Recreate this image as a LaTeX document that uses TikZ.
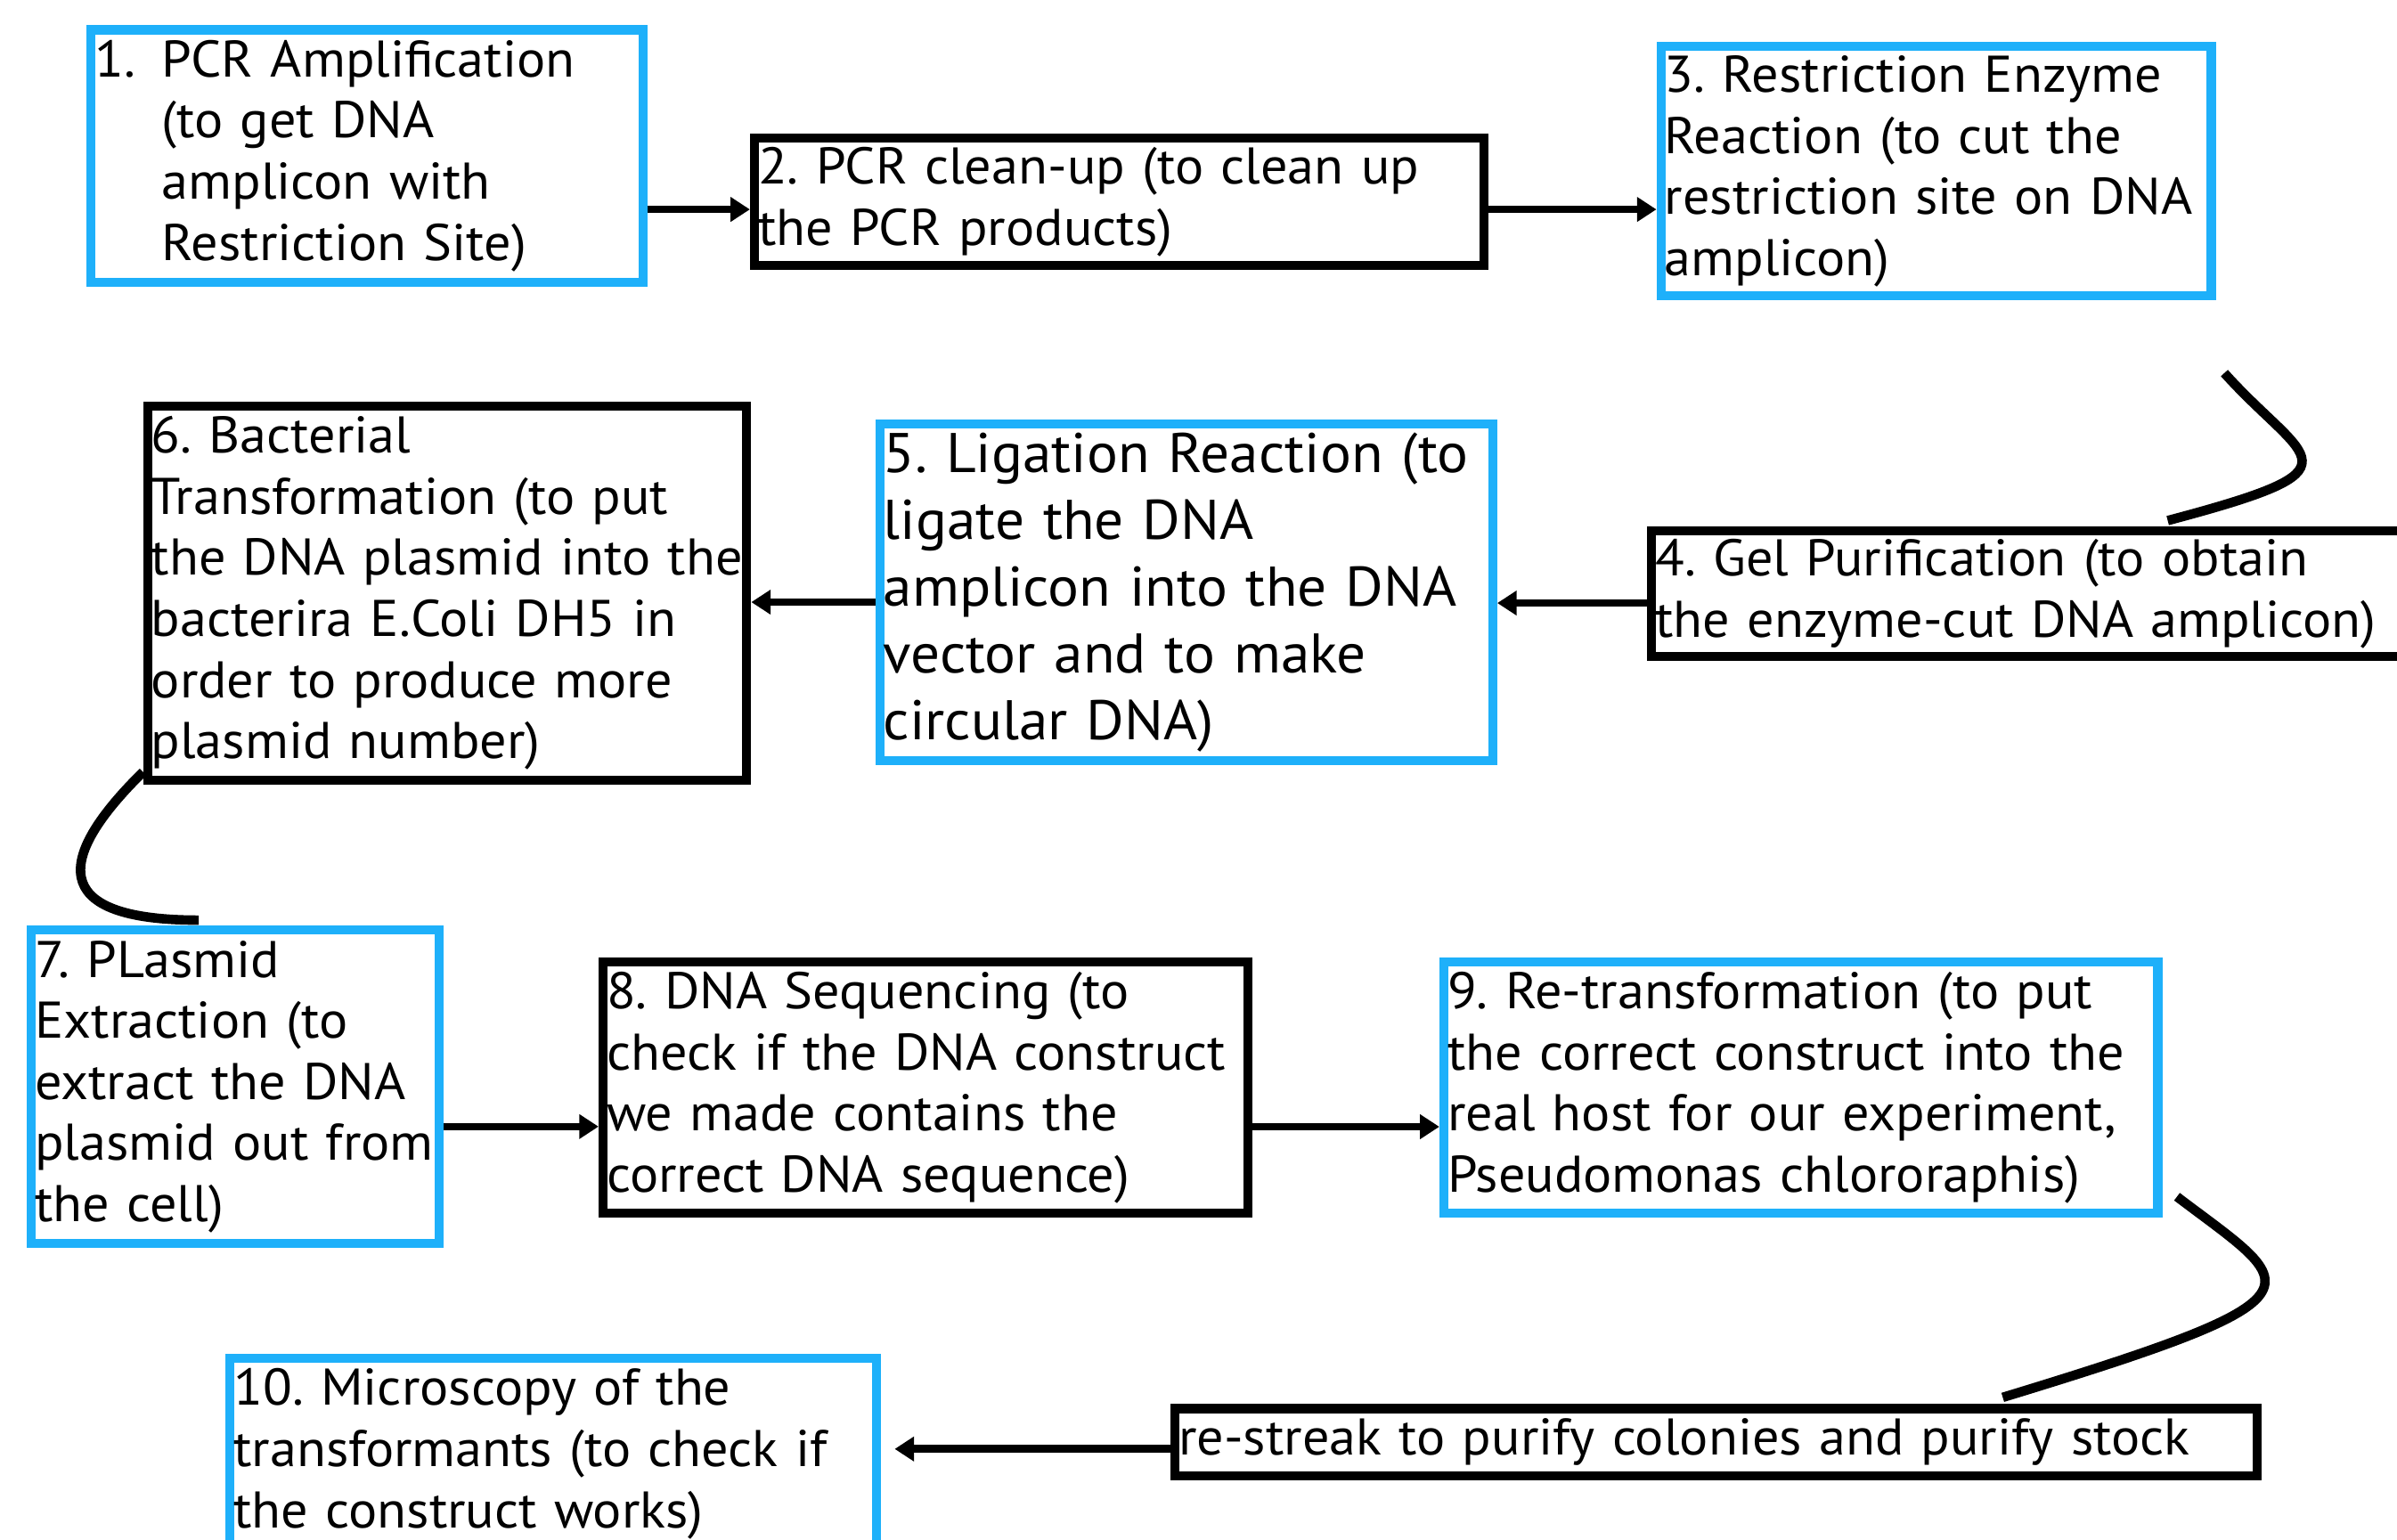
\documentclass[tikz,border=0pt]{standalone}
\usepackage{fontspec}
\newfontfamily\pasofont{PT Sans}[FakeStretch=1.04]
\usetikzlibrary{arrows.meta}
\definecolor{azulpaso}{RGB}{30,176,250}

\begin{document}
\begin{tikzpicture}[
    paso/.style={draw, line width=4.2pt, inner xsep=0.06cm, align=left,
      font={\pasofont\fontsize{24}{28.45}\selectfont\frenchspacing}},
    azul/.style={paso, draw=azulpaso},
    negro/.style={paso, draw=black},
    flecha/.style={-{Triangle[length=9pt,width=11pt]}, line width=3.6pt},
    curva/.style={line width=4.4pt}
  ]
  \clip (0,0) rectangle (39.2,-25.175);

  % Pasos
  \node[azul, text width=8.905cm, minimum height=4.125cm] (p1) at (6.0,-2.55)
    {\makebox[1.1cm][l]{1.}PCR Amplification\\\hspace*{1.1cm}(to get DNA\\\hspace*{1.1cm}amplicon with\\\hspace*{1.1cm}Restriction Site)};
  \node[negro, text width=11.805cm, minimum height=2.075cm] (p2) at (18.3,-3.3)
    {2. PCR clean-up (to clean up\\the PCR products)};
  \node[azul, text width=8.88cm, minimum height=4.075cm] (p3) at (31.6625,-2.8)
    {3. Restriction Enzyme\\Reaction (to cut the\\restriction site on DNA\\amplicon)};
  \node[negro, text width=12.255cm, minimum height=2.05cm] (p4) at (33.2,-9.7125)
    {4. Gel Purification (to obtain\\the enzyme-cut DNA amplicon)};
  \node[azul, text width=9.905cm, minimum height=5.5cm,
    font={\pasofont\fontsize{26}{31}\selectfont\frenchspacing}] (p5) at (19.4,-9.6875)
    {5. Ligation Reaction (to\\ligate the DNA\\amplicon into the DNA\\vector and to make\\circular DNA)};
  \node[negro, text width=9.68cm, minimum height=6.125cm] (p6) at (7.3125,-9.7)
    {6. Bacterial\\Transformation (to put\\the DNA plasmid into the\\bacterira E.Coli DH5 in\\order to produce more\\plasmid number)};
  \node[azul, text width=6.555cm, minimum height=5.125cm] (p7) at (3.85,-17.775)
    {7. PLasmid\\Extraction (to\\extract the DNA\\plasmid out from\\the cell)};
  \node[negro, text width=10.43cm, minimum height=4.1cm] (p8) at (15.1375,-17.7875)
    {8. DNA Sequencing (to\\check if the DNA construct\\we made contains the\\correct DNA sequence)};
  \node[azul, text width=11.555cm, minimum height=4.1cm] (p9) at (29.45,-17.7875)
    {9. Re-transformation (to put\\the correct construct into the\\real host for our experiment,\\Pseudomonas chlororaphis)};
  \node[azul, text width=10.455cm, minimum height=3.125cm] (p10) at (9.05,-23.775)
    {10. Microscopy of the\\transformants (to check if\\the construct works)};
  \node[negro, text width=17.58cm, minimum height=1.1cm] (p11) at (28.0625,-23.5875)
    {re-streak to purify colonies and purify stock};

  % Flechas
  \draw[flecha] ([yshift=-0.125cm]p1.east |- p2.west) -- ([yshift=-0.125cm]p2.west);
  \draw[flecha] ([yshift=-0.125cm]p2.east) -- ([yshift=-0.125cm]p2.east -| p3.west);
  \draw[flecha] ([yshift=-0.15cm]p4.west) -- ([yshift=-0.15cm]p4.west -| p5.east);
  \draw[flecha] ([yshift=-0.16cm]p5.west) -- ([yshift=-0.16cm]p5.west -| p6.east);
  \draw[flecha] ([yshift=-0.65cm]p7.east) -- ([yshift=-0.65cm]p7.east -| p8.west);
  \draw[flecha] ([yshift=-0.64cm]p8.east) -- ([yshift=-0.64cm]p8.east -| p9.west);
  \draw[flecha] ([yshift=-0.11cm]p11.west) -- ([xshift=0.22cm,yshift=-0.11cm]p10.east |- p11.west);

  % Curvas
  \draw[curva] ([xshift=0.14cm,yshift=-1.19cm]p3.south east)
    .. controls +(1.325,-1.475) and +(3.3,0.875) .. ([xshift=2.25cm,yshift=0.1cm]p4.north);
  \draw[curva] ([yshift=0.21cm]p6.south west)
    .. controls +(-1.6,-1.575) and +(-2.25,0) .. ([xshift=-0.6cm,yshift=0.09cm]p7.north);
  \draw[curva] ([xshift=0.24cm,yshift=0.34cm]p9.south east)
    .. controls +(1.975,-1.5) and +(5.5,1.675) .. ([xshift=4.69cm,yshift=0.11cm]p11.north);
\end{tikzpicture}
\end{document}
